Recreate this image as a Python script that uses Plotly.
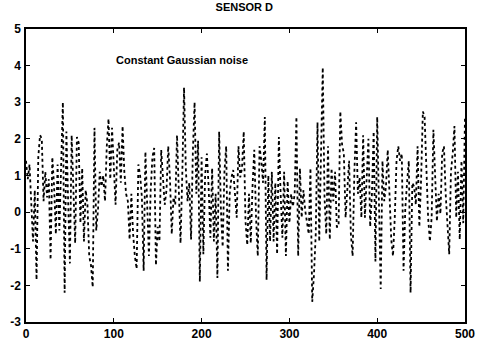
import plotly.graph_objects as go

sample_index = list(range(0, 501, 2))
sensor_d = [
    1.4, 0.9, 1.3, 0.2, -0.8, 0.6, -1.85, 1.5, 2.1, 2.0,
    0.3, 1.1, 0.4, 0.9, -1.3, 1.5, 0.7, -0.6, 1.3, -0.5,
    1.45, 3.0, -2.2, 2.2, 0.3, -1.4, 2.1, 0.4, -0.85, 2.05,
    1.9, -0.3, 1.2, -0.8, 0.6, 0.2, -1.2, -1.45, -2.05, 2.3,
    -0.5, 0.05, 1.1, 0.7, 1.0, 0.3, 1.8, 2.55, 0.9, 2.3,
    1.1, 0.2, 1.7, 1.9, 0.8, 2.35, 1.1, 0.5, 0.3, -0.75,
    0.5, -0.6, -1.2, -1.55, 1.3, 1.0, 0.4, -1.6, 1.65, 0.2,
    -1.2, 0.6, 1.5, 1.75, -1.45, -0.4, -0.8, 1.7, 0.9, 0.2,
    0.6, 1.8, 0.9, -0.6, 0.4, 0.2, 2.1, 0.8, -0.85, 1.0,
    3.4, 1.2, 0.3, 0.8, -0.75, 1.6, 3.0, 0.5, 1.95, -1.9,
    1.5, -1.15, 1.0, 1.6, 0.7, -0.7, 1.2, -0.8, 0.5, -1.8,
    2.2, 0.05, -0.95, 1.1, 1.8, -1.6, 0.5, 0.95, 1.15, 0.5,
    -0.15, 1.8, 0.95, 1.2, 2.2, -0.25, -0.9, 0.5, -0.85, 0.7,
    1.7, -0.15, -1.2, 1.8, 1.4, 0.8, 2.6, -1.85, 1.0, -0.8,
    1.1, -0.8, 0.8, -1.15, 2.05, 0.5, -0.7, 1.1, -1.2, 0.85,
    -0.3, 0.5, 0.15, 0.5, 2.6, -1.2, 1.2, -0.15, 0.6, 0.05,
    -0.25, -0.6, 1.2, -2.45, -1.7, -0.6, 2.45, -0.8, 1.6, 3.95,
    0.4, -0.6, 1.8, -0.75, 1.2, 0.3, 1.1, -0.4, -0.4, 2.75,
    1.85, 1.6, -0.15, 0.6, 1.4, -0.6, -1.2, 1.1, 2.45, 0.5,
    0.95, -0.15, 2.1, -0.15, 0.8, 2.0, -0.4, 0.5, 2.2, -1.35,
    2.6, -0.3, -2.1, 1.4, 0.3, 0.7, 1.7, 0.5, -0.75, -1.2,
    -0.15, 1.4, 1.8, 1.4, 1.6, -1.6, 0.1, 0.8, 1.4, -2.2,
    0.8, 0.7, 0.2, 1.8, -0.4, 0.9, 2.75, 2.6, 1.1, -0.15,
    -0.8, -0.15, 2.25, 1.1, -0.25, 0.5, -0.05, 1.6, 1.8, 0.5,
    -0.25, -1.15, 1.1, 1.6, 2.35, -0.15, 1.1, -0.75, 1.4, -0.3,
    2.6,
]
x_ticks = [0, 100, 200, 300, 400, 500]
y_ticks = [-3, -2, -1, 0, 1, 2, 3, 4, 5]

font_family = "Liberation Sans, Arial, sans-serif"

fig = go.Figure()
fig.add_trace(go.Scatter(
    x=sample_index, y=sensor_d, mode="lines",
    line=dict(color="black", width=1.8, dash="dot"),
    showlegend=False,
))

axis_common = dict(
    showgrid=False, zeroline=False, showline=True, linecolor="black",
    linewidth=1.5, mirror="ticks", ticks="inside", ticklen=4,
    tickcolor="black", tickwidth=1, automargin=False,
    tickfont=dict(family=font_family, size=12, color="black", weight="bold"),
)
fig.update_xaxes(range=[0, 500], tickvals=x_ticks, ticktext=[str(v) for v in x_ticks], **axis_common)
fig.update_yaxes(range=[-3, 5], tickvals=y_ticks, ticktext=[str(v) for v in y_ticks], ticklabelstandoff=1, **axis_common)

fig.add_annotation(
    x=100, y=4.15, xref="x", yref="y", text="Constant Gaussian noise",
    showarrow=False, xanchor="left", yanchor="middle",
    font=dict(family=font_family, size=11, color="black", weight="bold"),
)

fig.update_layout(
    width=479, height=343,
    margin=dict(l=26, r=14, t=29, b=21),
    paper_bgcolor="white", plot_bgcolor="white",
    title=dict(text="SENSOR D", x=0.51, xanchor="center", y=0.99, yanchor="top",
               automargin=False,
               font=dict(family=font_family, size=11, color="black", weight="bold")),
)

fig.write_html("out.html")
